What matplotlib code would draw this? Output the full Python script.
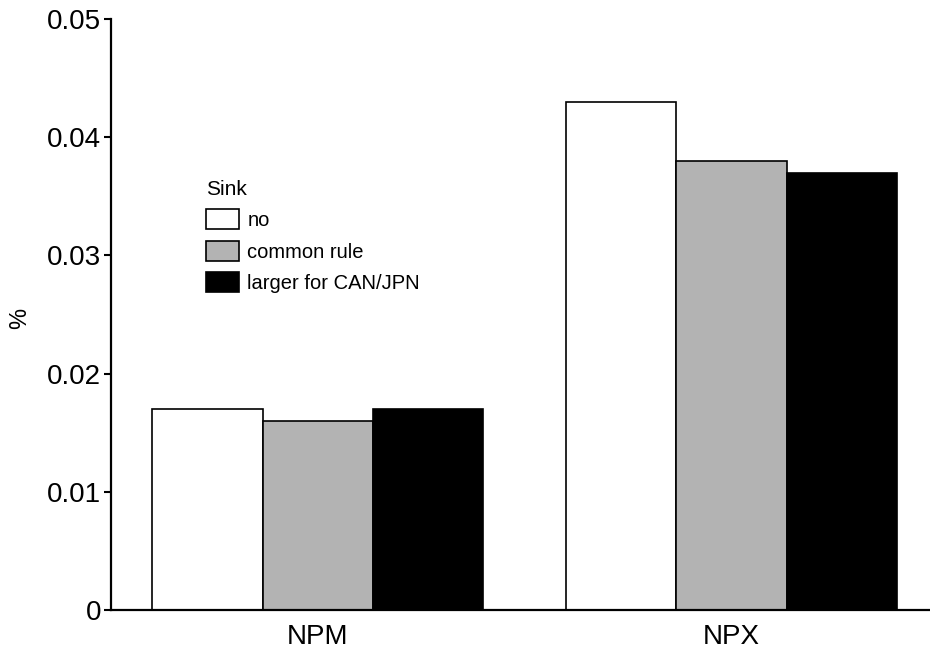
import matplotlib
matplotlib.use("Agg")
import matplotlib.pyplot as plt
import numpy as np

plt.rcParams['font.family'] = ['Liberation Sans', 'DejaVu Sans']

# data
groups = ["NPM", "NPX"]
sink_labels = ["no", "common rule", "larger for CAN/JPN"]
sink_colors = ["white", "#b3b3b3", "black"]
values = {
    "no": [0.017, 0.043],
    "common rule": [0.016, 0.038],
    "larger for CAN/JPN": [0.017, 0.037],
}
yticks = [0, 0.01, 0.02, 0.03, 0.04, 0.05]
ytick_labels = ["0", "0.01", "0.02", "0.03", "0.04", "0.05"]

fig = plt.figure(figsize=(9.30, 6.54), dpi=100)
ax = fig.add_axes([111 / 930, 1 - 610 / 654, 1 - 111 / 930, (610 - 19) / 654])

x = np.arange(len(groups))
w = 0.267
for i, lab in enumerate(sink_labels):
    ax.bar(x + (i - 1) * w, values[lab], width=w, color=sink_colors[i],
           edgecolor="black", linewidth=1.2, label=lab, zorder=2)

ax.set_xlim(-0.5, 1.48)
ax.set_ylim(0, 0.05)
ax.set_xticks(x)
ax.set_xticklabels(groups, fontsize=20)
ax.set_yticks(yticks)
ax.set_yticklabels(ytick_labels, fontsize=20)
ax.tick_params(axis="y", length=5, width=1.5, pad=2)
ax.tick_params(axis="x", length=0, pad=10)

for s in ["top", "right"]:
    ax.spines[s].set_visible(False)
ax.spines["left"].set_linewidth(1.6)
ax.spines["bottom"].set_linewidth(1.6)

fig.text(20 / 930, 1 - 318 / 654, "%", rotation=90, fontsize=17,
         ha="center", va="center")

leg = ax.legend(title="Sink", loc="upper left",
                bbox_to_anchor=(206 / 930, 1 - 180 / 654),
                bbox_transform=fig.transFigure, frameon=False,
                fontsize=14.5, title_fontsize=15, alignment="left",
                handlelength=1.65, handleheight=1.15, handletextpad=0.4,
                labelspacing=0.52, borderpad=0, borderaxespad=0)

plt.savefig("out.png", dpi=100)
